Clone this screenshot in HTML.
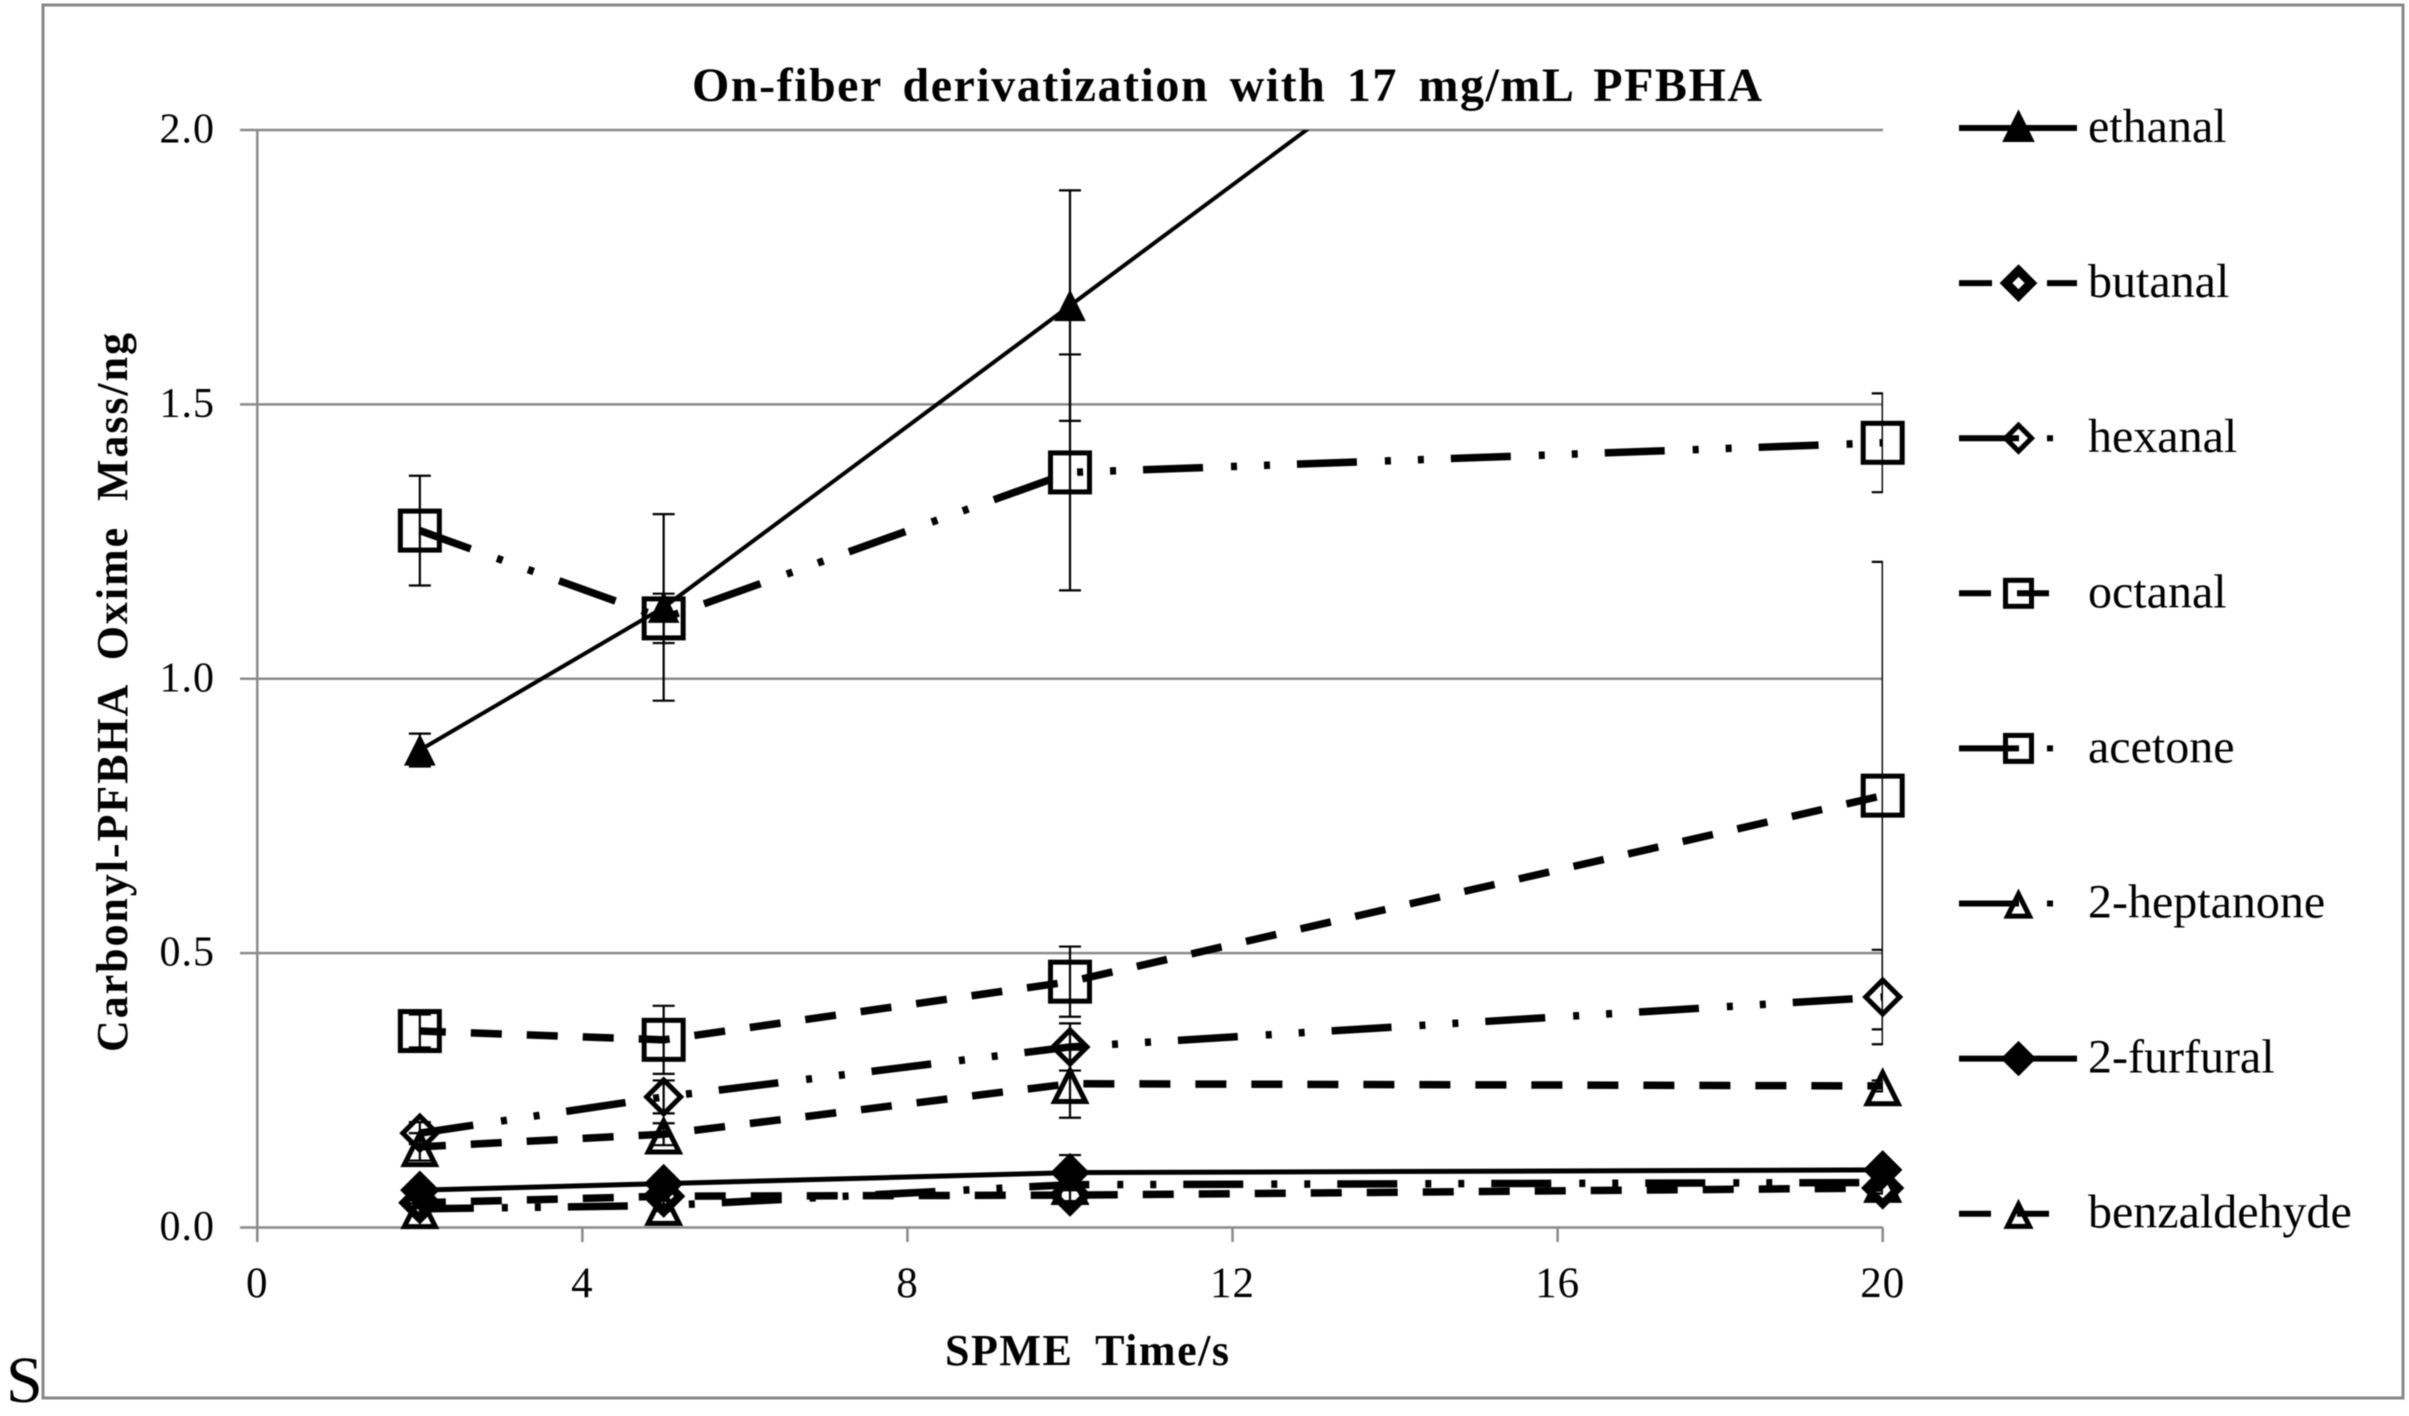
<!DOCTYPE html>
<html lang="en">
<head>
<meta charset="utf-8">
<title>On-fiber derivatization with 17 mg/mL PFBHA</title>
<style>
html,body{margin:0;padding:0;background:#fff;width:2409px;height:1416px;overflow:hidden}
svg{display:block;filter:blur(0.5px)}
text{font-family:"Liberation Serif","Times New Roman",serif;fill:#000}
</style>
</head>
<body>
<svg id="chart" xmlns="http://www.w3.org/2000/svg" width="2409" height="1416" viewBox="0 0 2409 1416">
  <defs>
    <clipPath id="plot-clip"><rect x="200" y="130" width="1683" height="1112"/></clipPath>
    <clipPath id="line-clip"><rect x="200" y="130" width="1800" height="1200"/></clipPath>
  </defs>
  <rect x="43" y="5" width="2360" height="1393" fill="#fff" stroke="#888" stroke-width="3"/>
  <text x="692" y="101" font-size="48" font-weight="bold" word-spacing="7" textLength="1070" lengthAdjust="spacing">On-fiber derivatization with 17 mg/mL PFBHA</text>
  <text transform="translate(127,1052) rotate(-90)" font-size="44" font-weight="bold" word-spacing="12" textLength="719" lengthAdjust="spacing">Carbonyl-PFBHA Oxime Mass/ng</text>
  <text x="945" y="1365" font-size="44" font-weight="bold" word-spacing="10" textLength="284" lengthAdjust="spacing">SPME Time/s</text>
  <text x="6" y="1402" font-size="66">S</text>
  <g id="axes"></g>
  <g id="series"></g>
  <g id="legend"></g>
</svg>
<script>
const times = [2, 5, 10, 20];
const xTicks = [0, 4, 8, 12, 16, 20];
const yTicks = [0, 0.5, 1.0, 1.5, 2.0];

const ethanal = [0.87, 1.13, 1.68, 2.78];
const butanal = [0.045, 0.057, 0.059, 0.072];
const hexanal = [0.172, 0.238, 0.329, 0.42];
const octanal = [0.358, 0.342, 0.448, 0.787];
const acetone = [1.27, 1.11, 1.376, 1.43];
const heptanone = [0.034, 0.04, 0.078, 0.082];
const furfural = [0.068, 0.08, 0.10, 0.105];
const benzaldehyde = [0.147, 0.17, 0.262, 0.258];

const ethanalErr = [0.03, 0.17, 0.21, 0.3];
const butanalErr = [0.01, 0.015, 0.015, 0.01];
const hexanalErr = [0.02, 0.03, 0.043, 0.086];
const octanalErr = [0.03, 0.062, 0.064, 0.426];
const acetoneErr = [0.10, 0.045, 0.215, 0.09];
const heptanoneErr = [0.01, 0.01, 0.01, 0.01];
const furfuralErr = [0.01, 0.015, 0.032, 0.01];
const benzaldehydeErr = [0.025, 0.02, 0.062, 0.01];

const seriesNames = ['ethanal', 'butanal', 'hexanal', 'octanal', 'acetone', '2-heptanone', '2-furfural', 'benzaldehyde'];
const seriesValues = [ethanal, butanal, hexanal, octanal, acetone, heptanone, furfural, benzaldehyde];
const seriesErrors = [ethanalErr, butanalErr, hexanalErr, octanalErr, acetoneErr, heptanoneErr, furfuralErr, benzaldehydeErr];
const seriesMarkers = ['triangle-filled', 'diamond', 'diamond', 'square', 'square', 'triangle', 'diamond-filled', 'triangle'];

const DASH = '31 25';
const LDD = '60 28 6 27 6 27';
const seriesDash = ['', DASH, LDD, DASH, LDD, LDD, '', DASH];
const seriesDashOffset = [0, 5, 6, 5, 6, 6, 0, 5];
const seriesWidth = [4, 7.5, 7.5, 7.5, 7.5, 7.5, 5, 7.5];
const legendDash = ['', '33 55 33 99', LDD, '32 26 32 99', LDD, LDD, '', '32 26 32 99'];

const NS = 'http://www.w3.org/2000/svg';
function xScale(v) { return 257.3 + v * 81.27; }
function yScale(v) { return 1227.5 - v * 548.75; }
function mk(tag, parent) {
  const el = document.createElementNS(NS, tag);
  parent.appendChild(el);
  return el;
}
function set(el, attrs) {
  for (const k in attrs) el.setAttribute(k, attrs[k]);
  return el;
}
function slug(s) { return s.replace(/[^a-z0-9]+/gi, '-').toLowerCase(); }

const axes = document.getElementById('axes');
yTicks.forEach(function (t) {
  const g = mk('line', axes);
  set(g, { x1: 240, x2: 1883, y1: yScale(t), y2: yScale(t), stroke: '#8a8a8a', 'stroke-width': 2.5 });
  
  
  const l = mk('text', axes);
  set(l, { x: 215, y: yScale(t) + 12.5, 'font-size': 42, 'text-anchor': 'end', 'letter-spacing': 1 });
  l.textContent = t.toFixed(1);
  
  
});
const yAxis = mk('line', axes);
set(yAxis, { x1: xScale(0), x2: xScale(0), y1: yScale(2), y2: 1242, stroke: '#8a8a8a', 'stroke-width': 2.5 });


xTicks.forEach(function (t) {
  const g = mk('line', axes);
  set(g, { x1: xScale(t), x2: xScale(t), y1: yScale(0), y2: 1242, stroke: '#8a8a8a', 'stroke-width': 2.5 });
  
  
  const l = mk('text', axes);
  set(l, { x: xScale(t), y: 1297, 'font-size': 43, 'text-anchor': 'middle', 'letter-spacing': 1 });
  l.textContent = String(t);
  
  
});

function drawMarker(parent, type, cx, cy, s, sw) {
  const filled = type.indexOf('filled') >= 0;
  let el;
  if (type === 'square') {
    el = mk('rect', parent);
    set(el, { x: cx - s / 2, y: cy - s / 2, width: s, height: s });
  } else {
    el = mk('polygon', parent);
    const h = s / 2;
    let pts;
    if (type.indexOf('diamond') === 0) {
      pts = [[cx, cy - h], [cx + h, cy], [cx, cy + h], [cx - h, cy]];
    } else if (type === 'triangle') {
      pts = [[cx, cy - h * 0.85], [cx + h, cy + h * 1.15], [cx - h, cy + h * 1.15]];
    } else {
      pts = [[cx, cy - h], [cx + h, cy + h], [cx - h, cy + h]];
    }
    set(el, { points: pts.map(function (p) { return p.join(','); }).join(' ') });
  }
  set(el, { fill: filled ? '#000' : 'none', stroke: '#000', 'stroke-width': sw, 'stroke-linejoin': 'miter' });
  return el;
}

const root = document.getElementById('series');
seriesNames.forEach(function (name, i) {
  const key = slug(name);
  const vals = seriesValues[i];
  const errs = seriesErrors[i];
  const group = mk('g', root);
  
  

  const errGroup = mk('g', group);
  set(errGroup, { 'clip-path': 'url(#plot-clip)' });
  
  
  vals.forEach(function (v, j) {
    const x = xScale(times[j]);
    const top = yScale(v + errs[j]);
    const bot = yScale(v - errs[j]);
    const p = mk('path', errGroup);
    set(p, { d: 'M' + x + ' ' + top + 'V' + bot + 'M' + (x - 11) + ' ' + top + 'H' + (x + 11) + 'M' + (x - 11) + ' ' + bot + 'H' + (x + 11), fill: 'none', stroke: '#000', 'stroke-width': 2.2 });
    
    
  });

  const line = mk('polyline', group);
  set(line, {
    points: vals.map(function (v, j) { return xScale(times[j]) + ',' + yScale(v); }).join(' '),
    fill: 'none', stroke: '#000',
    'stroke-width': seriesWidth[i],
    'clip-path': 'url(#line-clip)'
  });
  if (seriesDash[i]) {
    line.setAttribute('stroke-dasharray', seriesDash[i]);
    line.setAttribute('stroke-dashoffset', seriesDashOffset[i]);
  }
  
  

  const type = seriesMarkers[i];
  let size = 34;
  let sw = 5;
  if (type === 'square') size = 39;
  if (type === 'triangle') size = 31;
  if (type === 'triangle-filled') { size = 30; sw = 1; }
  if (type === 'diamond-filled') { size = 38; sw = 1; }
  if (name === 'butanal') { size = 32; sw = 8; }
  vals.forEach(function (v, j) {
    if (v > 2) return;
    const m = drawMarker(group, type, xScale(times[j]), yScale(v), size, sw);
    
    
  });
});

const legend = document.getElementById('legend');
seriesNames.forEach(function (name, i) {
  const key = slug(name);
  const cy = 128 + 155.1 * i;
  const g = mk('g', legend);
  
  
  const line = mk('line', g);
  set(line, { x1: 1959, x2: 2077, y1: cy, y2: cy, stroke: '#000', 'stroke-width': 6 });
  if (legendDash[i]) line.setAttribute('stroke-dasharray', legendDash[i]);
  
  
  const type = seriesMarkers[i];
  let mSize = 26;
  let mSw = 5;
  if (type === 'triangle-filled') { mSize = 31; mSw = 1; }
  if (type === 'diamond-filled') { mSize = 34; mSw = 1; }
  if (type === 'triangle') { mSize = 22; }
  if (name === 'butanal') { mSize = 25; mSw = 9; }
  const markerY = type === 'triangle-filled' ? cy - 2 : cy;
  const m = drawMarker(g, type, 2018.5, markerY, mSize, mSw);
  
  
  const t = mk('text', g);
  set(t, { x: 2088, y: cy + 14, 'font-size': 48 });
  t.textContent = name;
  
  
});
</script>
</body>
</html>
